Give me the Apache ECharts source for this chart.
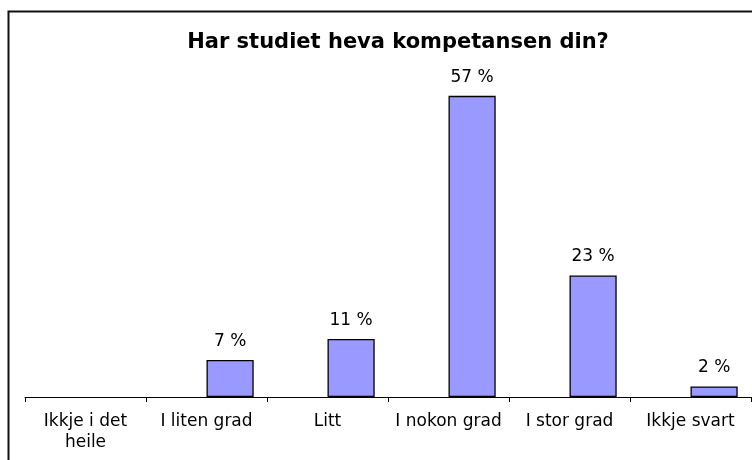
<!DOCTYPE html>
<html>
<head>
<meta charset="utf-8">
<script src="https://cdn.jsdelivr.net/npm/echarts@6/dist/echarts.min.js"></script>
<style>
html,body{margin:0;padding:0;background:#fff;}
#c{width:752px;height:460px;}
</style>
</head>
<body>
<div id="c"></div>
<script>
const titleText = 'Har studiet heva kompetansen din?';
const categories = ['Ikkje i det\nheile', 'I liten grad', 'Litt', 'I nokon grad', 'I stor grad', 'Ikkje svart'];
const values = [0, 7, 11, 57, 23, 2];
const emptySeries = [null, null, null, null, null, null];

const FONT = 'DejaVu Sans, Verdana, sans-serif';
const chart = echarts.init(document.getElementById('c'));
chart.setOption({
  animation: false,
  backgroundColor: '#fff',
  textStyle: { fontFamily: FONT },
  title: {
    text: titleText,
    left: 393, top: 27, textAlign: 'center',
    textStyle: { fontSize: 21, fontWeight: 'bold', color: '#000', fontFamily: FONT }
  },
  graphic: [{
    type: 'rect', z: 100,
    shape: { x: 8.5, y: 11.5, width: 800, height: 500 },
    style: { fill: 'none', stroke: '#111', lineWidth: 2 }
  }],
  grid: { left: 25, right: 1, top: 80, bottom: 63, containLabel: false },
  xAxis: {
    type: 'category',
    data: categories,
    boundaryGap: true,
    axisLine: { show: true, lineStyle: { color: '#000', width: 1 } },
    axisTick: { show: true, interval: 0, length: 5, lineStyle: { color: '#000' } },
    axisLabel: { interval: 0, color: '#000', fontSize: 17, lineHeight: 21, margin: 14, fontFamily: FONT }
  },
  yAxis: { type: 'value', min: 0, max: 60, show: false, splitLine: { show: false } },
  series: [
    { type: 'bar', data: emptySeries, barGap: '0%', barCategoryGap: '22%', itemStyle: { color: 'transparent' } },
    {
      type: 'bar',
      data: values.map(v => (v === 0 ? '-' : v)),
      barGap: '0%', barCategoryGap: '22%',
      itemStyle: { color: '#9999FF', borderColor: '#000', borderWidth: 1.3 },
      label: {
        show: true, position: 'top', distance: 10, color: '#000', fontSize: 17,
        fontFamily: FONT,
        formatter: p => p.value + ' %'
      }
    }
  ]
});
</script>
</body>
</html>
